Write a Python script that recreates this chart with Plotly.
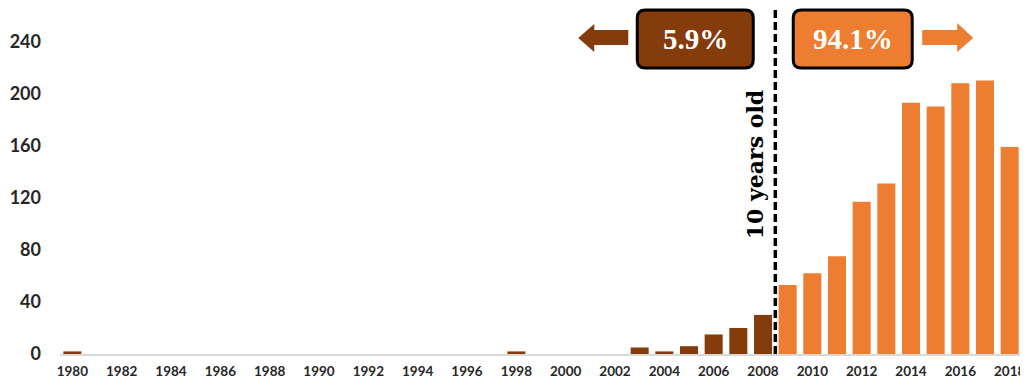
import plotly.graph_objects as go

years = list(range(1980, 2019))
counts = [2, 0, 0, 0, 0, 0, 0, 0, 0, 0, 0, 0, 0, 0, 0, 0, 0, 0, 2, 0,
          0, 0, 0, 5, 2, 6, 15, 20, 30,
          53, 62, 75, 117, 131, 193, 190, 208, 210, 159]
tick_years = list(range(1980, 2019, 2))
y_ticks = [0, 40, 80, 120, 160, 200, 240]
split_year = 2008.5
share_old = "5.9%"
share_new = "94.1%"

BROWN = "#843C0C"
ORANGE = "#ED7D31"

colors = [BROWN if y < split_year else ORANGE for y in years]

# the page body adds an 8px margin, so the figure is 8px smaller and
# everything below is laid out in screen pixels
X0, PXY, PYU = 1980, 24.67, 1.302
Y_TOP = 346 / PYU


def px_x(px):
    return X0 + (px - 72) / PXY


def px_y(py):
    return (354 - py) / PYU


def rounded_rect(x0, x1, y0, y1, r=8):
    rx, ry = r / PXY, r / PYU
    return (f"M {x0 + rx},{y1} L {x1 - rx},{y1} Q {x1},{y1} {x1},{y1 - ry} "
            f"L {x1},{y0 + ry} Q {x1},{y0} {x1 - rx},{y0} L {x0 + rx},{y0} "
            f"Q {x0},{y0} {x0},{y0 + ry} L {x0},{y1 - ry} Q {x0},{y1} {x0 + rx},{y1} Z")


def arrow(tail, head_base, tip, shaft_t, shaft_b, head_t, head_b, mid):
    return (f"M {tail},{shaft_t} L {head_base},{shaft_t} L {head_base},{head_t} "
            f"L {tip},{mid} L {head_base},{head_b} L {head_base},{shaft_b} "
            f"L {tail},{shaft_b} Z")


fig = go.Figure()
fig.add_trace(go.Bar(x=years, y=counts, marker_color=colors,
                     marker_line_width=0, showlegend=False))

shapes = [
    dict(type="line", x0=split_year, x1=split_year, y0=0, y1=Y_TOP,
         xref="x", yref="y", line=dict(color="black", width=3.5, dash="8px,4px")),
    dict(type="path", path=rounded_rect(px_x(637), px_x(753), px_y(68), px_y(10)),
         fillcolor=BROWN, line=dict(color="black", width=3)),
    dict(type="path", path=rounded_rect(px_x(793), px_x(912), px_y(68), px_y(10)),
         fillcolor=ORANGE, line=dict(color="black", width=3)),
    dict(type="path",
         path=arrow(px_x(628), px_x(594), px_x(578), px_y(30), px_y(45),
                    px_y(24), px_y(52), px_y(38)),
         fillcolor=BROWN, line=dict(width=0)),
    dict(type="path",
         path=arrow(px_x(922), px_x(957), px_x(973), px_y(30), px_y(45),
                    px_y(23), px_y(52), px_y(38)),
         fillcolor=ORANGE, line=dict(width=0)),
]
fig.update_layout(shapes=shapes)

fig.add_annotation(x=px_x(695), y=px_y(39), text="<b>" + share_old + "</b>",
                   showarrow=False,
                   font=dict(family="Liberation Serif", size=29, color="white"))
fig.add_annotation(x=px_x(852.5), y=px_y(39), text="<b>" + share_new + "</b>",
                   showarrow=False,
                   font=dict(family="Liberation Serif", size=29, color="white"))
fig.add_annotation(x=px_x(755), y=px_y(165), text="<b>10 years old</b>",
                   showarrow=False, textangle=-90,
                   font=dict(family="DejaVu Serif", size=22, color="black"))

fig.update_layout(
    width=1020, height=377,
    margin=dict(l=52, r=6, t=0, b=31, autoexpand=False),
    plot_bgcolor="white", paper_bgcolor="white",
    bargap=0.27,
    xaxis=dict(range=[1979.5, 2018.5], tickvals=tick_years,
               ticktext=[str(y) for y in tick_years],
               showgrid=False, zeroline=False, automargin=False,
               showline=True, linecolor="#D9D9D9", linewidth=1.5,
               ticks="", ticklabelstandoff=4,
               tickfont=dict(family="Lato", size=13.5, color="#262626",
                             weight="bold")),
    yaxis=dict(range=[0, Y_TOP], tickvals=y_ticks, showgrid=False,
               zeroline=False, showline=False, ticks="", automargin=False,
               ticklabelstandoff=18,
               tickfont=dict(family="Lato", size=18, color="#262626",
                             weight="bold")),
)

fig.write_html("out.html")
